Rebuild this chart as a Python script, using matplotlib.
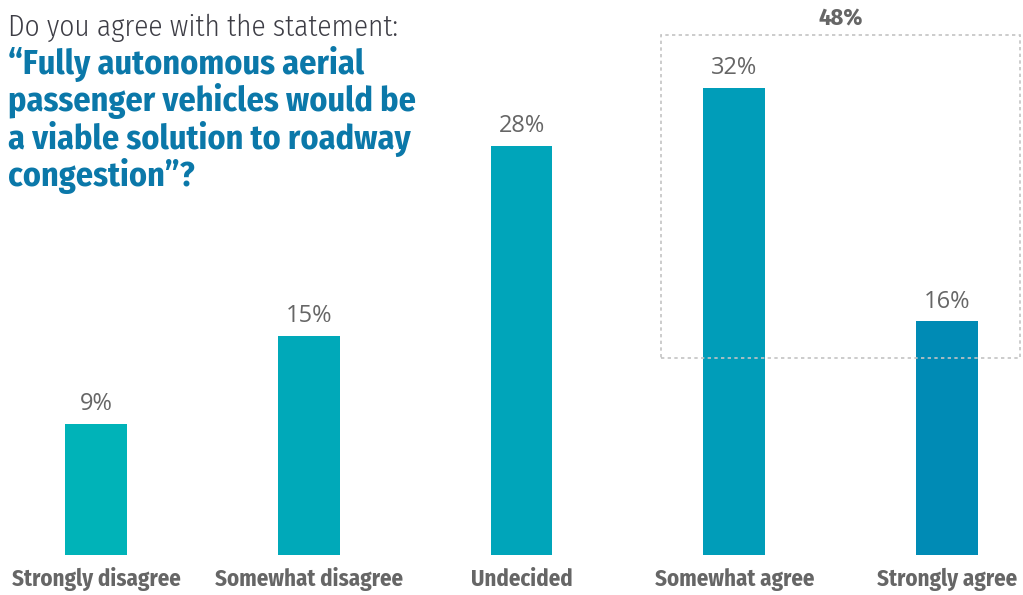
import matplotlib
matplotlib.use("Agg")
import matplotlib.pyplot as plt
from matplotlib.patches import Rectangle

categories = ["Strongly disagree", "Somewhat disagree", "Undecided",
              "Somewhat agree", "Strongly agree"]
values = [9, 15, 28, 32, 16]
bar_colors = ["#00b3b8", "#00a9b9", "#00a5ba", "#009db9", "#008bb5"]
agree_idx = [3, 4]

title_intro = "Do you agree with the statement:"
title_lines = ["\u201cFully autonomous aerial", "passenger vehicles would be",
               "a viable solution to roadway", "congestion\u201d?"]

COND = ["Fira Sans Condensed", "DejaVu Sans"]
REG = ["Open Sans", "DejaVu Sans"]
GRAY = "#666666"
BLUE = "#0b78a9"

fig = plt.figure(figsize=(10.23, 5.95), dpi=100)
ax = fig.add_axes([0, 40 / 595, 1, 555 / 595])

x = list(range(len(categories)))
ax.bar(x, values, width=0.291, color=bar_colors, zorder=2)
ax.set_xlim(-96 / 212.75, 927 / 212.75)
ax.set_ylim(0, 555 / 14.6)
ax.axis("off")

for xi, v in zip(x, values):
    ax.annotate(f"{v}%", (xi, v), xytext=(0, 10), textcoords="offset points",
                ha="center", va="baseline", fontsize=17, color=GRAY,
                family=REG)

for xi, c in zip(x, categories):
    ax.annotate(c, (xi, 0), xytext=(0, -22), textcoords="offset points",
                ha="center", va="baseline", fontsize=16.5, color=GRAY,
                family=COND, weight="bold", annotation_clip=False)

# dotted box around the "agree" group
x0 = agree_idx[0] - 0.343
x1 = agree_idx[-1] + 0.343
box = Rectangle((x0, 13.5), x1 - x0, 22.1, fill=False, edgecolor="#c4c4c4",
                linestyle=(0, (2, 2)), linewidth=1.2, zorder=3)
ax.add_patch(box)
total = sum(values[i] for i in agree_idx)
ax.text((x0 + x1) / 2, 36.3, f"{total}%", ha="center", va="baseline",
        fontsize=17.5, color=GRAY, family=COND, weight="bold")

# title
fig.text(8 / 1023, 1 - 36 / 595, title_intro, ha="left", va="baseline",
         fontsize=21, color="#3d3d45", family=COND, weight=300)
for i, line in enumerate(title_lines):
    fig.text(8 / 1023, 1 - (74 + 37.3 * i) / 595, line, ha="left",
             va="baseline", fontsize=24.5, color=BLUE, family=COND,
             weight="bold")

fig.savefig("out.png", dpi=100)
